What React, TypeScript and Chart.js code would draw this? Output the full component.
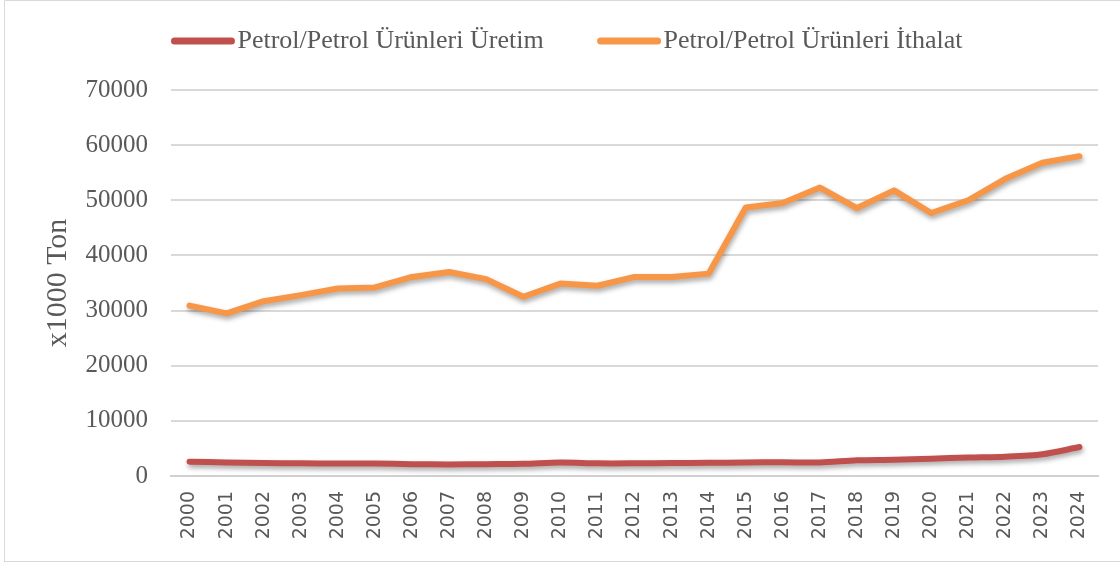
import React, { useEffect, useRef } from "react";
import { Chart, registerables } from "chart.js";

Chart.register(...registerables);

const years = [
  "2000", "2001", "2002", "2003", "2004", "2005", "2006", "2007", "2008", "2009",
  "2010", "2011", "2012", "2013", "2014", "2015", "2016", "2017", "2018", "2019",
  "2020", "2021", "2022", "2023", "2024",
];

const uretim = [
  2600, 2450, 2350, 2300, 2250, 2250, 2150, 2100, 2150, 2200,
  2450, 2300, 2300, 2350, 2400, 2450, 2500, 2450, 2850, 2950,
  3150, 3350, 3500, 3950, 5250,
];

const ithalat = [
  30900, 29500, 31700, 32800, 34000, 34200, 36100, 37000, 35700, 32500,
  34900, 34500, 36100, 36100, 36700, 48700, 49500, 52300, 48600, 51800,
  47700, 50000, 53900, 56800, 58000,
];

const seriesNames = ["Petrol/Petrol Ürünleri Üretim", "Petrol/Petrol Ürünleri İthalat"];
const seriesColors = ["#C0504D", "#F79646"];
const yAxisTitle = "x1000 Ton";
const yMin = 0;
const yMax = 70000;
const yStep = 10000;

const TEXT_COLOR = "#595959";
const SERIF = "'Liberation Serif', serif";

const shadowPlugin = {
  id: "lineShadow",
  beforeDatasetDraw(chart: any) {
    const ctx = chart.ctx;
    ctx.save();
    ctx.shadowColor = "rgba(0,0,0,0.35)";
    ctx.shadowBlur = 5;
    ctx.shadowOffsetX = 1;
    ctx.shadowOffsetY = 3;
  },
  afterDatasetDraw(chart: any) {
    chart.ctx.restore();
  },
};

const legendPlugin = {
  id: "customLegend",
  afterDraw(chart: any) {
    const ctx = chart.ctx;
    ctx.save();
    ctx.font = `26px ${SERIF}`;
    const lineLen = 60;
    const capGap = 6;
    const itemGap = 54;
    const y = 41;
    const widths = chart.data.datasets.map((d: any) => ctx.measureText(d.label).width);
    let total = 0;
    widths.forEach((w: number, i: number) => {
      total += lineLen + capGap + w + (i < widths.length - 1 ? itemGap : 0);
    });
    let x = 567 - total / 2;
    chart.data.datasets.forEach((d: any, i: number) => {
      ctx.strokeStyle = d.borderColor;
      ctx.lineWidth = 7;
      ctx.lineCap = "round";
      ctx.beginPath();
      ctx.moveTo(x + 3, y);
      ctx.lineTo(x + lineLen, y);
      ctx.stroke();
      ctx.fillStyle = TEXT_COLOR;
      ctx.textBaseline = "middle";
      ctx.textAlign = "left";
      ctx.fillText(d.label, x + lineLen + capGap, y);
      x += lineLen + capGap + widths[i] + itemGap;
    });
    ctx.restore();
  },
};

const borderPlugin = {
  id: "outerBorder",
  afterDraw(chart: any) {
    const ctx = chart.ctx;
    ctx.save();
    ctx.strokeStyle = "#d9d9d9";
    ctx.lineWidth = 1;
    ctx.beginPath();
    ctx.moveTo(4.5, 562);
    ctx.lineTo(4.5, 0.5);
    ctx.lineTo(1120, 0.5);
    ctx.moveTo(4.5, 561.5);
    ctx.lineTo(1120, 561.5);
    ctx.stroke();
    ctx.restore();
  },
};

export default function App() {
  const canvasRef = useRef<HTMLCanvasElement | null>(null);

  useEffect(() => {
    if (!canvasRef.current) return;
    const chart = new Chart(canvasRef.current, {
      type: "line",
      data: {
        labels: years,
        datasets: [
          {
            label: seriesNames[0],
            data: uretim,
            borderColor: seriesColors[0],
            backgroundColor: seriesColors[0],
            borderWidth: 6,
            pointRadius: 0,
            tension: 0.3,
            borderCapStyle: "round",
            borderJoinStyle: "round",
          },
          {
            label: seriesNames[1],
            data: ithalat,
            borderColor: seriesColors[1],
            backgroundColor: seriesColors[1],
            borderWidth: 6,
            pointRadius: 0,
            tension: 0,
            borderCapStyle: "round",
            borderJoinStyle: "round",
          },
        ],
      },
      options: {
        responsive: false,
        devicePixelRatio: 1,
        animation: false,
        layout: { padding: { left: 0, right: 22, top: 90, bottom: 0 } },
        plugins: {
          legend: { display: false },
          tooltip: { enabled: false },
        },
        scales: {
          x: {
            type: "category",
            offset: true,
            grid: { display: false, drawTicks: false },
            border: { display: true, color: "#d0d0d0", width: 2 },
            ticks: {
              autoSkip: false,
              minRotation: 90,
              maxRotation: 90,
              padding: 15,
              color: TEXT_COLOR,
              font: { family: "'DejaVu Sans', sans-serif", size: 19 },
            },
            afterFit(scale: any) {
              scale.height = 87;
            },
          },
          y: {
            min: yMin,
            max: yMax,
            grid: { color: "#d9d9d9", lineWidth: 2, drawTicks: false },
            border: { display: false },
            ticks: {
              stepSize: yStep,
              padding: 23,
              color: TEXT_COLOR,
              font: { family: SERIF, size: 25 },
              callback: (v: any) => String(v),
            },
            title: {
              display: true,
              text: yAxisTitle,
              color: TEXT_COLOR,
              font: { family: SERIF, size: 30, weight: "normal" },
              padding: { top: 40, bottom: 0 },
            },
            afterFit(scale: any) {
              scale.width = 171;
            },
          },
        },
      },
      plugins: [shadowPlugin, legendPlugin, borderPlugin],
    });
    return () => chart.destroy();
  }, []);

  return (
    <div style={{ position: "fixed", left: 0, top: 0, width: 1120, height: 563, background: "#fff" }}>
      <canvas ref={canvasRef} width={1120} height={563} style={{ display: "block" }} />
    </div>
  );
}
